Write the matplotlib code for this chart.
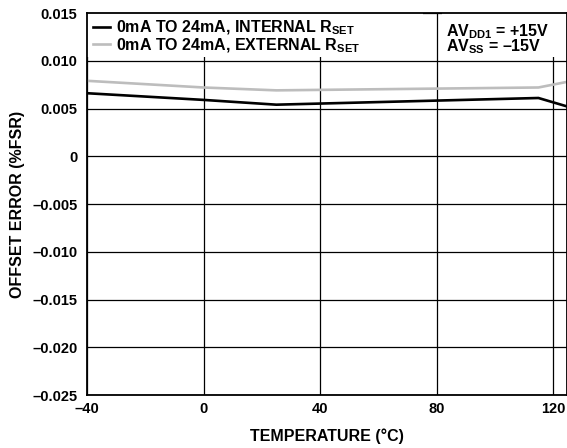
import numpy as np
import matplotlib.pyplot as plt
from matplotlib.patches import Rectangle

plt.rcParams['font.family'] = ['Liberation Sans', 'DejaVu Sans']
plt.rcParams['font.weight'] = 'bold'
plt.rcParams['mathtext.fontset'] = 'custom'
plt.rcParams['mathtext.rm'] = 'Liberation Sans:bold'
plt.rcParams['mathtext.default'] = 'rm'

# data
temp = [-40, 0, 25, 115, 125]
internal = [0.0066, 0.0059, 0.0054, 0.0061, 0.0052]
external = [0.0079, 0.0072, 0.0069, 0.0072, 0.0078]

xticks = [-40, 0, 40, 80, 120]
xtick_labels = ['–40', '0', '40', '80', '120']
yticks = [0.015, 0.010, 0.005, 0, -0.005, -0.010, -0.015, -0.020, -0.025]
ytick_labels = ['0.015', '0.010', '0.005', '0', '–0.005', '–0.010',
                '–0.015', '–0.020', '–0.025']

fig = plt.figure(figsize=(5.67, 4.48), dpi=100)
ax = fig.add_axes([87/567, 53/448, 1 - 87/567, 382/448])

ax.plot(temp, internal, color='black', lw=1.9, zorder=3,
        label='0mA TO 24mA, INTERNAL R$_{SET}$')
ax.plot(temp, external, color='#bdbdbd', lw=1.9, zorder=3,
        label='0mA TO 24mA, EXTERNAL R$_{SET}$')

ax.set_xlim(-40, 124.8)
ax.set_ylim(-0.025, 0.015)
ax.set_xticks(xticks)
ax.set_xticklabels(xtick_labels)
ax.set_yticks(yticks)
ax.set_yticklabels(ytick_labels)
ax.tick_params(length=0, labelsize=10.5)
ax.tick_params(axis='x', pad=5)
ax.tick_params(axis='y', pad=7)
ax.grid(True, color='black', lw=0.9, zorder=1)
ax.set_axisbelow(True)
for s in ax.spines.values():
    s.set_linewidth(1.3)
    s.set_zorder(10)

# white areas behind the legend and the supply note (gridlines hidden there)
ax.add_patch(Rectangle((0.0, 0.886), 0.70, 0.114, transform=ax.transAxes,
                       facecolor='white', edgecolor='none', zorder=2))
ax.add_patch(Rectangle((0.74, 0.886), 0.26, 0.114, transform=ax.transAxes,
                       facecolor='white', edgecolor='none', zorder=2))

ax.set_xlabel('TEMPERATURE (°C)', fontsize=11.5, fontweight='bold', labelpad=9)
ax.set_ylabel('OFFSET ERROR (%FSR)', fontsize=11.5, fontweight='bold', labelpad=5)

leg = ax.legend(loc='upper left', bbox_to_anchor=(0.0, 1.0), frameon=False,
                fontsize=11.5, handlelength=1.1, handletextpad=0.35,
                labelspacing=-0.05, borderaxespad=0.0, borderpad=0.35)
leg.set_zorder(5)

ax.text(0.748, 0.976, 'AV$_{DD1}$ = +15V\nAV$_{SS}$ = –15V', transform=ax.transAxes,
        fontsize=11.5, va='top', ha='left', linespacing=0.78, zorder=5)

fig.savefig('out.png', dpi=100)
